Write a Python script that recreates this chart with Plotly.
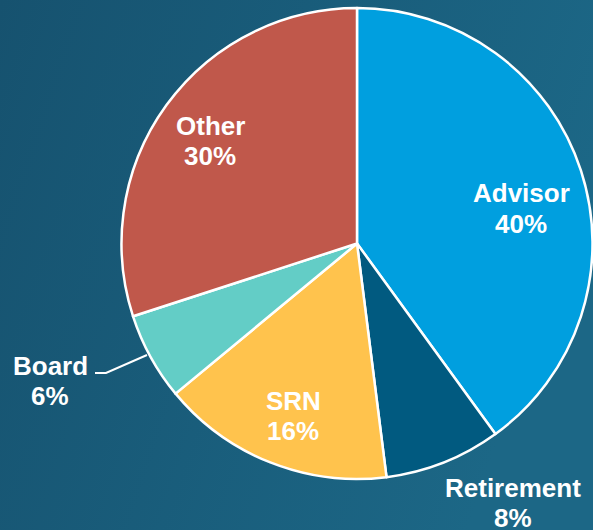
import base64
import plotly.graph_objects as go

labels = ["Advisor", "Retirement", "SRN", "Board", "Other"]
values = [40, 8, 16, 6, 30]
colors = ["#009fdf", "#015a80", "#ffc34d", "#63cdc6", "#c0584b"]

W, H = 593, 530

svg = (
    '<svg xmlns="http://www.w3.org/2000/svg" width="593" height="530">'
    '<defs><linearGradient id="g" x1="0" y1="0" x2="1" y2="0.3">'
    '<stop offset="0" stop-color="#16526f"/><stop offset="1" stop-color="#1c6786"/>'
    '</linearGradient></defs><rect width="593" height="530" fill="url(#g)"/></svg>'
)
bg = "data:image/svg+xml;base64," + base64.b64encode(svg.encode()).decode()

fig = go.Figure(go.Pie(
    labels=labels, values=values, sort=False, direction="clockwise", rotation=0,
    marker=dict(colors=colors, line=dict(color="white", width=2.5)),
    textinfo="none", hoverinfo="label+percent", showlegend=False,
    domain=dict(x=[121 / W, 1.0], y=[51 / H, 522 / H]),
))

font = dict(family="Liberation Sans, Arial, sans-serif", size=26, color="white")
# label positions (pixels): x center, y of first line, y of second line
pos = {
    "Advisor": (521, 193, 224),
    "Retirement": (513, 488, 518),
    "SRN": (293, 401, 431),
    "Board": (50, 366, 396),
    "Other": (210, 126, 156),
}
tot = sum(values)
for lab, v in zip(labels, values):
    x, y1, y2 = pos[lab]
    for txt, yy in ((lab, y1), (f"{round(100 * v / tot)}%", y2)):
        fig.add_annotation(
            x=x / W, y=1 - yy / H, xref="paper", yref="paper", showarrow=False,
            text=f"<b>{txt}</b>", font=font,
            xanchor="center", yanchor="middle",
        )

# leader line for Board
pts = [(95, 373), (106, 373), (147, 355)]
path = "M " + " L ".join(f"{x / W},{1 - y / H}" for x, y in pts)
fig.add_shape(type="path", path=path, xref="paper", yref="paper",
              line=dict(color="white", width=2))

fig.update_layout(
    width=W, height=H, margin=dict(l=0, r=0, t=0, b=0),
    paper_bgcolor="#185b79", plot_bgcolor="rgba(0,0,0,0)",
    images=[dict(source=bg, xref="paper", yref="paper", x=0, y=1, sizex=1, sizey=1,
                 xanchor="left", yanchor="top", sizing="stretch", layer="below")],
)
fig.write_html("out.html", config={"displayModeBar": False},
               post_script="document.body.style.margin='0';document.body.style.overflow='hidden';")
